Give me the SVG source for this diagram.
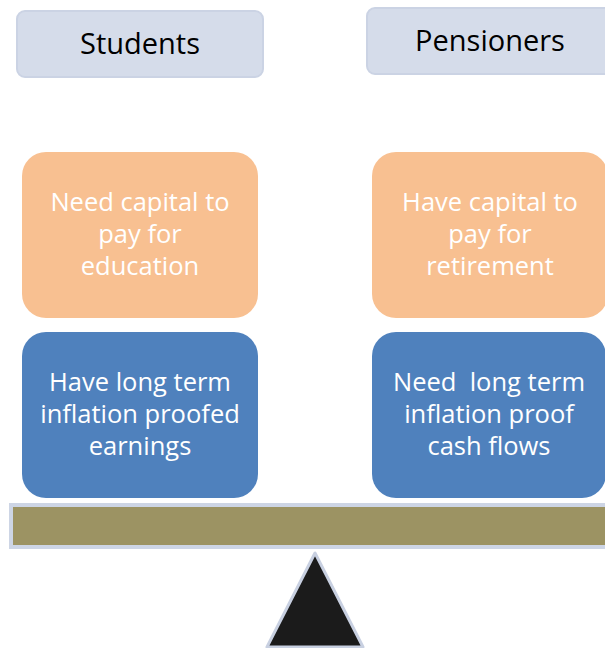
<svg xmlns="http://www.w3.org/2000/svg" width="605" height="648" viewBox="0 0 605 648">
  <style>
    .hdr { fill: #d5dcea; stroke: #cbd3e4; stroke-width: 2; }
    .need { fill: #f8c091; }
    .have { fill: #4f81bd; }
    text { font-family: "Open Sans", "Noto Sans", sans-serif; text-anchor: middle; }
    .hdr-t { font-size: 29px; fill: #000; }
    .box-t { font-size: 25.5px; fill: #fff; }
  </style>
  <rect width="605" height="648" fill="#fff"/>

  <g id="students">
    <rect class="hdr" x="17" y="11" width="246" height="66" rx="8"/>
    <text class="hdr-t" x="140" y="54">Students</text>
  </g>
  <g id="pensioners">
    <rect class="hdr" x="367" y="8" width="246" height="66" rx="8"/>
    <text class="hdr-t" x="490" y="51">Pensioners</text>
  </g>

  <g id="students-need">
    <rect class="need" x="22" y="152" width="236" height="166" rx="24"/>
    <text class="box-t" x="140" y="211">Need capital to</text>
    <text class="box-t" x="140" y="243">pay for</text>
    <text class="box-t" x="140" y="275">education</text>
  </g>
  <g id="pensioners-have">
    <rect class="need" x="372" y="152" width="236" height="166" rx="24"/>
    <text class="box-t" x="490" y="211">Have capital to</text>
    <text class="box-t" x="490" y="243">pay for</text>
    <text class="box-t" x="490" y="275">retirement</text>
  </g>

  <g id="students-have">
    <rect class="have" x="22" y="332" width="236" height="166" rx="24"/>
    <text class="box-t" x="140" y="391">Have long term</text>
    <text class="box-t" x="140" y="423">inflation proofed</text>
    <text class="box-t" x="140" y="455">earnings</text>
  </g>
  <g id="pensioners-need">
    <rect class="have" x="372" y="332" width="234" height="166" rx="24"/>
    <text class="box-t" x="489" y="391" xml:space="preserve">Need  long term</text>
    <text class="box-t" x="489" y="423">inflation proof</text>
    <text class="box-t" x="489" y="455">cash flows</text>
  </g>

  <!-- balance beam and fulcrum -->
  <g id="beam">
    <rect x="11" y="505" width="610" height="42" fill="#9c9363" stroke="#cdd5e5" stroke-width="4"/>
  </g>
  <g id="fulcrum">
    <polygon points="315,553 267,647 363,647" fill="#1b1b1b" stroke="#c8d0e1" stroke-width="3" stroke-linejoin="round"/>
  </g>
</svg>
